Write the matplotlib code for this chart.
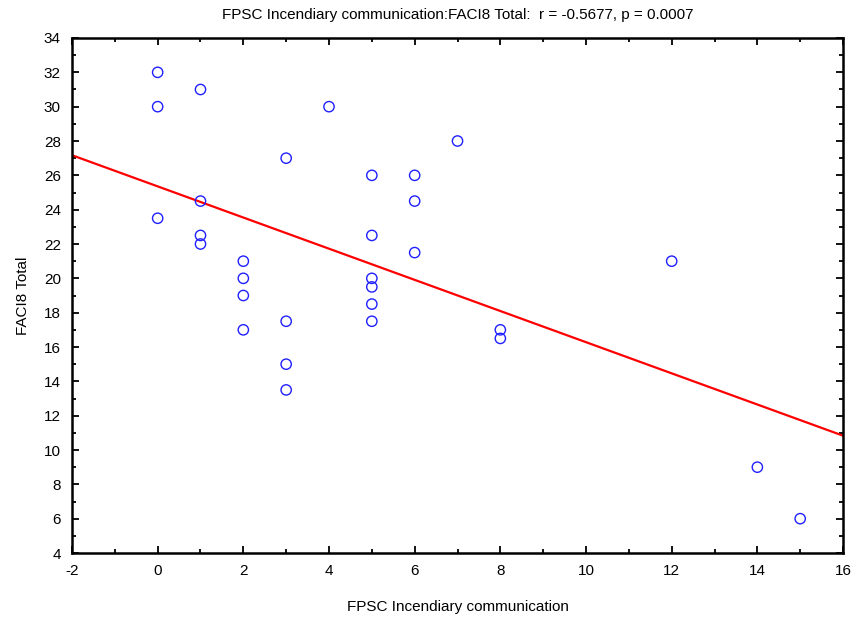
import numpy as np
import matplotlib.pyplot as plt
from matplotlib.ticker import MultipleLocator

plt.rcParams['font.family'] = ['Liberation Sans', 'DejaVu Sans']
plt.rcParams['axes.unicode_minus'] = False

# FPSC Incendiary communication vs FACI8 Total
fpsc = [0, 0, 0, 1, 1, 1, 1, 2, 2, 2, 2, 3, 3, 3, 3, 4,
        5, 5, 5, 5, 5, 5, 6, 6, 6, 7, 8, 8, 12, 14, 15]
faci8 = [32, 30, 23.5, 31, 24.5, 22.5, 22, 21, 20, 19, 17, 27, 17.5, 15, 13.5, 30,
         26, 22.5, 20, 19.5, 18.5, 17.5, 26, 24.5, 21.5, 28, 17, 16.5, 21, 9, 6]

x = np.array(fpsc, dtype=float)
y = np.array(faci8, dtype=float)
slope, intercept = np.polyfit(x, y, 1)

fig = plt.figure(figsize=(8.57, 6.26), dpi=100)
ax = fig.add_axes([0.084, 0.1166, 0.8997, 0.8227])

# regression line across the full x range
xl = np.array([-2, 16])
ax.plot(xl, intercept + slope * xl, color='#ff0000', lw=1.6, zorder=2)

ax.scatter(x, y, s=55, facecolors='none', edgecolors='#2020ff', linewidths=1.0, zorder=3)

ax.set_xlim(-2, 16)
ax.set_ylim(4, 34)
ax.xaxis.set_major_locator(MultipleLocator(2))
ax.xaxis.set_minor_locator(MultipleLocator(1))
ax.yaxis.set_major_locator(MultipleLocator(2))
ax.yaxis.set_minor_locator(MultipleLocator(1))
ax.tick_params(which='both', direction='in', top=True, right=True, labelsize=11, width=1.3)
ax.tick_params(which='major', length=5, pad=8)
ax.tick_params(which='minor', length=3)
for s in ax.spines.values():
    s.set_linewidth(1.8)

ax.set_xlabel('FPSC Incendiary communication', fontsize=11, labelpad=16)
ax.set_ylabel('FACI8 Total', fontsize=11, labelpad=10)
ax.set_title('FPSC Incendiary communication:FACI8 Total:  r = -0.5677, p = 0.0007',
             fontsize=11, pad=14)

fig.savefig('out.png', dpi=100)
